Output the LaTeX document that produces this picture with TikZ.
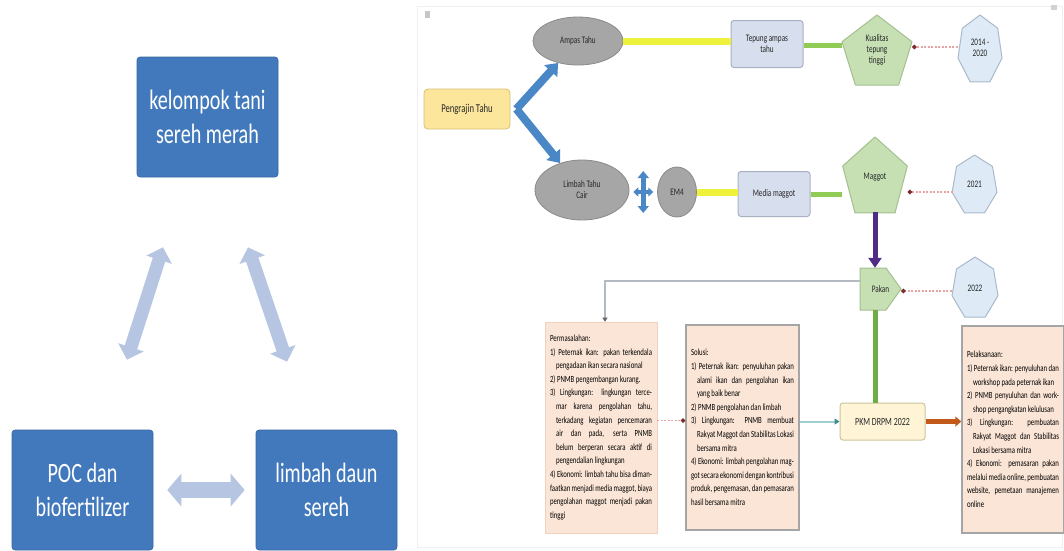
\documentclass[tikz,border=0pt]{standalone}
\usepackage{fontspec}
\setmainfont{Carlito}
\newfontfamily\narrowfont[FakeStretch=0.72]{Carlito}
\usetikzlibrary{shapes.geometric,arrows.meta,calc}
\definecolor{boxblue}{HTML}{4279BC}
\definecolor{boxblueline}{HTML}{3767A3}
\definecolor{paleblue}{HTML}{B5C5E2}
\definecolor{pengfill}{HTML}{FCE69C}
\definecolor{pengline}{HTML}{D9BF72}
\definecolor{ellfill}{HTML}{A6A6A6}
\definecolor{ellline}{HTML}{8A8A8A}
\definecolor{arrblue}{HTML}{4A87C7}
\definecolor{yel}{HTML}{EEF23C}
\definecolor{tfill}{HTML}{D7DEED}
\definecolor{tline}{HTML}{A8B0C2}
\definecolor{grn}{HTML}{8FCB55}
\definecolor{pentfill}{HTML}{C6E0B4}
\definecolor{pentline}{HTML}{A3BF8F}
\definecolor{hepfill}{HTML}{DEEAF6}
\definecolor{hepline}{HTML}{AAB9CC}
\definecolor{reddash}{HTML}{E8A3A3}
\definecolor{reddot}{HTML}{7E2B2B}
\definecolor{purp}{HTML}{512B88}
\definecolor{dgrn}{HTML}{6DAE45}
\definecolor{pkmfill}{HTML}{FFF4D6}
\definecolor{pkmline}{HTML}{CBC49C}
\definecolor{tealln}{HTML}{9ECFD2}
\definecolor{tealtip}{HTML}{3E8C90}
\definecolor{orng}{HTML}{C25A1C}
\definecolor{peach}{HTML}{FBE5D6}
\definecolor{peachline}{HTML}{F0D0C0}
\definecolor{boxgray}{HTML}{A5A5A5}
\definecolor{glin}{HTML}{B3BAC2}
\newcommand\mypoly[6]{%
  \draw[#1] ({#3+#5*cos(90)},{#4-#6*sin(90)})
  \foreach \k in {1,...,#2}{ -- ({#3+#5*cos(90+\k*360/#2)},{#4-#6*sin(90+\k*360/#2)}) } -- cycle;}
\newcommand\itm[2]{\par\hangindent=6pt\hangafter=1 #1\ #2}
\tikzset{
  bigbox/.style={rectangle, rounded corners=3pt, fill=boxblue, draw=boxblueline, line width=0.6pt,
    text=white, minimum width=141pt, minimum height=120pt, align=center, inner sep=0pt,
    font=\narrowfont\fontsize{28}{34}\selectfont},
  fatarrow/.style={paleblue, line width=13pt,
    {Triangle[width=26pt,length=13pt]}-{Triangle[width=26pt,length=13pt]}},
  small/.style={font=\narrowfont\fontsize{10}{11}\selectfont, align=center, text=black!85, inner sep=0pt},
  pengbox/.style={small, rectangle, rounded corners=4pt, fill=pengfill, draw=pengline, line width=0.8pt,
    minimum width=86pt, minimum height=40pt, font=\narrowfont\fontsize{12}{13}\selectfont},
  ell/.style={small, ellipse, fill=ellfill, draw=ellline, line width=0.8pt},
  tbox/.style={small, rectangle, rounded corners=3pt, fill=tfill, draw=tline, line width=1pt},
  pentshape/.style={fill=pentfill, draw=pentline, line width=1pt, line join=round},
  hepshape/.style={fill=hepfill, draw=hepline, line width=1pt, line join=round},
  holder/.style={small, rectangle, draw=none},
  bluearr/.style={arrblue, line width=8pt, line join=round, -{Triangle[width=17pt,length=11pt]}},
  yline/.style={yel, line width=7pt},
  gline/.style={grn, line width=5pt},
  reddashed/.style={reddash, line width=1.2pt, dash pattern=on 2pt off 1.5pt,
    -{Circle[length=4.5pt, fill=reddot, color=reddot]}},
  txtbox/.style={rectangle, fill=peach, font=\narrowfont\fontsize{9.4}{13.6}\selectfont,
    align=justify, inner xsep=5pt, inner ysep=4pt, text=black},
}
\begin{document}
\begin{tikzpicture}[x=1pt,y=-1pt]
\useasboundingbox (0,0) rectangle (1064,550);
\fill[white] (0,0) rectangle (1064,550);

% ---------- left panel ----------
\node[bigbox] (kt) at (207.5,117) {kelompok tani\\sereh merah};
\node[bigbox] (poc) at (82.5,490) {POC dan\\biofertilizer};
\node[bigbox] (lds) at (326.5,490) {limbah daun\\sereh};
\draw[fatarrow] ($(kt.south)+(-44.5,70)$) -- ($(poc.north)+(44.5,-70)$);
\draw[fatarrow] ($(kt.south)+(40.5,70)$) -- ($(lds.north)+(-39.5,-68)$);
\draw[fatarrow, line width=16pt, {Triangle[width=32pt,length=14pt]}-{Triangle[width=32pt,length=14pt]}]
  ($(poc.east)+(14,0)$) -- ($(lds.west)+(-11,0)$);

% ---------- right panel ----------
\draw[gray!12, line width=0.8pt] (417,6) rectangle (1062,547);
\fill[gray!45] (425,11) rectangle (430,18);
\fill[gray!35] (1051,5) rectangle (1057,10);

\node[pengbox] (peng) at (467,109) {Pengrajin Tahu};
\node[ell, minimum width=90pt, minimum height=48pt] (ampas) at (578,41) {Ampas Tahu};
\node[ell, minimum width=94pt, minimum height=60pt] (limbah) at (582,190) {Limbah Tahu\\Cair};
\node[ell, minimum width=39pt, minimum height=50pt] (em) at (677,192) {EM4};
\coordinate (vtx) at ($(peng.east)+(6,0)$);
\draw[bluearr] (vtx) -- (ampas);
\draw[bluearr] (vtx) -- (limbah);
% four-way connector between Limbah and EM4
\coordinate (cross) at ($(limbah.east)!0.5!(em.west)+(0,1)$);
\draw[arrblue, line width=5pt, {Triangle[width=11pt,length=7pt]}-{Triangle[width=11pt,length=7pt]}]
  ($(cross)+(0,-21)$) -- ($(cross)+(0,21)$);
\draw[arrblue, line width=4pt, {Triangle[width=9pt,length=5pt]}-{Triangle[width=9pt,length=5pt]}]
  ($(cross)+(-10,0)$) -- ($(cross)+(10,0)$);

\node[tbox, minimum width=72pt, minimum height=47pt] (tepung) at (767,44) {Tepung ampas\\tahu};
\node[tbox, minimum width=72pt, minimum height=45pt] (media) at (774,194) {Media maggot};
\draw[yline] (ampas.east) -- (ampas.east -| tepung.west);
\draw[yline] (em.east) -- (em.east -| media.west);

% pentagons
\mypoly{pentshape}{5}{877}{53.7}{36.8}{38.7}
\node[holder, minimum width=70pt, minimum height=40pt] (kual) at (877,50) {Kualitas\\tepung\\tinggi};
\mypoly{pentshape}{5}{875}{179}{34}{42}
\node[holder, minimum width=65pt, minimum height=40pt] (mag) at (875,177) {Maggot};
\coordinate (g1) at ($(tepung.east)+(0,1)$);
\draw[gline] (g1) -- (g1 -| kual.west);
\draw[gline] (media.east) -- (media.east -| mag.west);

% heptagons
\mypoly{hepshape}{7}{980}{50.2}{22.6}{35.2}
\node[holder, minimum width=44pt, minimum height=40pt] (y1) at (980,48) {2014 -\\2020};
\mypoly{hepshape}{7}{974.5}{185.5}{23}{30.5}
\node[holder, minimum width=45pt, minimum height=40pt] (y2) at (974.5,184) {2021};
\mypoly{hepshape}{7}{975}{288.6}{23.6}{31.6}
\node[holder, minimum width=46pt, minimum height=40pt] (y3) at (975,288) {2022};

% pakan
\fill[pentfill, draw=pentline, line width=1pt, line join=round]
  (860,268) -- (886,268) -- (901,289) -- (886,310) -- (860,310) -- cycle;
\node[holder, minimum width=41pt, minimum height=42pt] (pakan) at (880.5,289) {Pakan};

\coordinate (r1) at ($(y1.west)+(0,-1)$);
\coordinate (r2) at ($(y2.west)+(1,8)$);
\coordinate (r3) at ($(y3.west)+(0,3)$);
\coordinate (k1) at (912,47);
\draw[reddashed] (r1) -- (r1 -| k1);
\draw[reddashed] (r2) -- (r2 -| mag.east);
\draw[reddashed] (r3) -- (r3 -| pakan.east);

\coordinate (pu) at ($(mag.south)+(0,15)$);
\draw[purp, line width=5pt, -{Triangle[width=13pt,length=10pt]}] (pu) -- (pu |- pakan.north);

% PKM
\node[small, rectangle, rounded corners=3pt, fill=pkmfill, draw=pkmline, line width=1pt,
  minimum width=85pt, minimum height=37pt, font=\narrowfont\fontsize{11}{12}\selectfont] (pkm) at (882.5,421.5) {PKM DRPM 2022};
\coordinate (gv) at ($(pkm.north)+(-7,0)$);
\draw[dgrn, line width=5pt] (gv |- pakan.south) -- (gv);

% text boxes
\node[txtbox, draw=peachline, line width=0.6pt, text width=102pt, minimum height=211pt] (perm) at (601,427.5) {%
Permasalahan:
\itm{1)}{Peternak ikan: pakan terkendala pengadaan ikan secara nasional}
\itm{2)}{PNMB pengembangan kurang.}
\itm{3)}{Lingkungan: lingkungan tercemar karena pengolahan tahu, terkadang kegiatan pencemaran air dan pada, serta PNMB belum berperan secara aktif di pengendalian lingkungan}
\itm{4)}{Ekonomi: limbah tahu bisa dimanfaatkan menjadi media maggot, biaya pengolahan maggot menjadi pakan tinggi}};
\node[txtbox, draw=boxgray, line width=1.5pt, text width=103pt, minimum height=205pt] (sol) at (742.5,427.5) {%
Solusi:
\itm{1)}{Peternak ikan: penyuluhan pakan alami ikan dan pengolahan ikan yang baik benar}
\itm{2)}{PNMB pengolahan dan limbah}
\itm{3)}{Lingkungan: PNMB membuat Rakyat Maggot dan Stabilitas Lokasi bersama mitra}
\itm{4)}{Ekonomi: limbah pengolahan maggot secara ekonomi dengan kontribusi produk, pengemasan, dan pemasaran hasil bersama mitra}};
\node[txtbox, draw=boxgray, line width=1.5pt, text width=92pt, minimum height=207pt] (pel) at (1013,429.5) {%
Pelaksanaan:
\itm{1)}{Peternak ikan: penyuluhan dan workshop pada peternak ikan}
\itm{2)}{PNMB penyuluhan dan workshop pengangkatan kelulusan}
\itm{3)}{Lingkungan: pembuatan Rakyat Maggot dan Stabilitas Lokasi bersama mitra}
\itm{4)}{Ekonomi: pemasaran pakan melalui media online, pembuatan website, pemetaan manajemen online}};

\coordinate (pd) at ($(perm.east)+(0,-7)$);
\draw[reddashed] (pd) -- (pd -| sol.west);
\draw[tealln, line width=2pt, -{Triangle[width=6pt,length=5pt, color=tealtip, fill=tealtip]}] (sol.east |- pkm.west) -- (pkm.west);
\draw[orng, line width=5pt, -{Triangle[width=10pt,length=6pt]}] (pkm.east) -- (pkm.east -| pel.west);
\coordinate (gl) at ($(pakan.west)+(0,-8)$);
\draw[glin, line width=1.2pt, -{Triangle[width=5pt,length=4pt, color=black!60]}]
  (gl) -| ($(perm.north)+(4,0)$);
\end{tikzpicture}
\end{document}
